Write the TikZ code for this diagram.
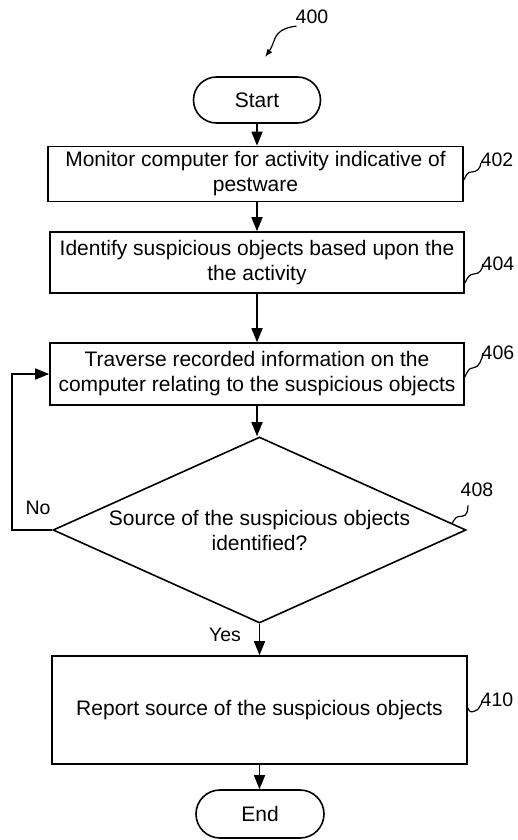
\documentclass[tikz,border=0pt]{standalone}
\usepackage{fontspec}
\setmainfont{Liberation Sans}
\usetikzlibrary{shapes.geometric,arrows.meta}
\tikzset{
  flow/.style={draw,line width=1.6pt,font=\fontsize{21}{25}\selectfont,align=center,inner sep=0pt},
  stepbox/.style={flow,rectangle},
  term/.style={flow,rounded corners=23pt,minimum width=127pt,minimum height=46pt},
  decide/.style={flow,diamond,aspect=2.22},
  refnum/.style={font=\fontsize{19.5}{22}\selectfont,inner sep=0pt},
  arr/.style={line width=1.6pt,-{Triangle[length=14pt,width=11pt]}},
  lead/.style={line width=1.2pt}
}
\begin{document}
\begin{tikzpicture}[x=1pt,y=-1pt]
  \useasboundingbox (0,0) rectangle (517,840);
  % flow steps
  \node[term] (start) at (257,100) {Start};
  \node[stepbox,minimum width=415pt,minimum height=55pt] (b402) at (255.5,174)
    {Monitor computer for activity indicative of\\pestware};
  \node[stepbox,minimum width=414pt,minimum height=61pt] (b404) at (257,262.5)
    {Identify suspicious objects based upon the\\the activity};
  \node[stepbox,minimum width=414pt,minimum height=62pt] (b406) at (257,374)
    {Traverse recorded information on the\\computer relating to the suspicious objects};
  \node[decide,minimum width=413pt,minimum height=186pt] (d408) at (259.5,530)
    {Source of the suspicious objects\\identified?};
  \node[stepbox,minimum width=415pt,minimum height=108pt] (b410) at (259.5,710)
    {Report source of the suspicious objects};
  \node[term,minimum width=128pt,minimum height=48pt,rounded corners=24pt] (end) at (260,814) {End};
  % connectors
  \draw[arr] (start.south) -- (start.south |- b402.north);
  \draw[arr] (start.south |- b402.south) -- (start.south |- b404.north);
  \draw[arr] (b404.south) -- (b404.south |- b406.north);
  \draw[arr] (b406.south) -- (b406.south |- d408.north);
  \draw[arr] (d408.south) -- (d408.south |- b410.north);
  \draw[arr] (b410.south) -- (b410.south |- end.north);
  \draw[arr] (d408.west) -- ++(-40,0) |- (b406.west);
  \node[refnum] (no) at (38,508) {No};
  \node[refnum] (yes) at (225,635) {Yes};
  % reference numerals
  \node[refnum] (r400) at (312,17) {400};
  \node[refnum] (r402) at (497,160) {402};
  \node[refnum] (r404) at (498,264) {404};
  \node[refnum] (r406) at (498,353) {406};
  \node[refnum] (r408) at (477,490) {408};
  \node[refnum] (r410) at (497,700) {410};
  \coordinate (a400) at (265,57);
  \draw[lead,-{Latex[length=8pt,width=6pt]}] ([xshift=1pt,yshift=-2pt]r400.south west)
    .. controls +(-18,2) and +(2,-6) .. ++(-23,16) .. controls +(-2,6) and +(3,-4) .. (a400);
  \draw[lead] ([yshift=-6pt]b402.east) .. controls +(3,-6) and +(-4,0) .. ++(8,-8)
    .. controls +(5,0) and +(0,5) .. ++(9,-9);
  \draw[lead] ([yshift=-20.5pt]b404.east) .. controls +(3,-6) and +(-4,0) .. ++(9,-9)
    .. controls +(6,0) and +(0,5) .. ++(9,-10);
  \draw[lead] ([yshift=-3pt]b406.east) .. controls +(3,-6) and +(-4,0) .. ++(8,-9)
    .. controls +(6,0) and +(0,5) .. ++(10,-15);
  \draw[lead] (d408.2.5) .. controls +(4,-6) and +(-6,0) .. ++(10,-7)
    .. controls +(5,0) and +(0,5) .. ++(6,-11);
  \draw[lead] ([yshift=2pt]b410.east) .. controls +(2,5) and +(-3,1) .. ++(7,3)
    .. controls +(4,-1) and +(-2,3) .. ++(7,-8);
\end{tikzpicture}
\end{document}
